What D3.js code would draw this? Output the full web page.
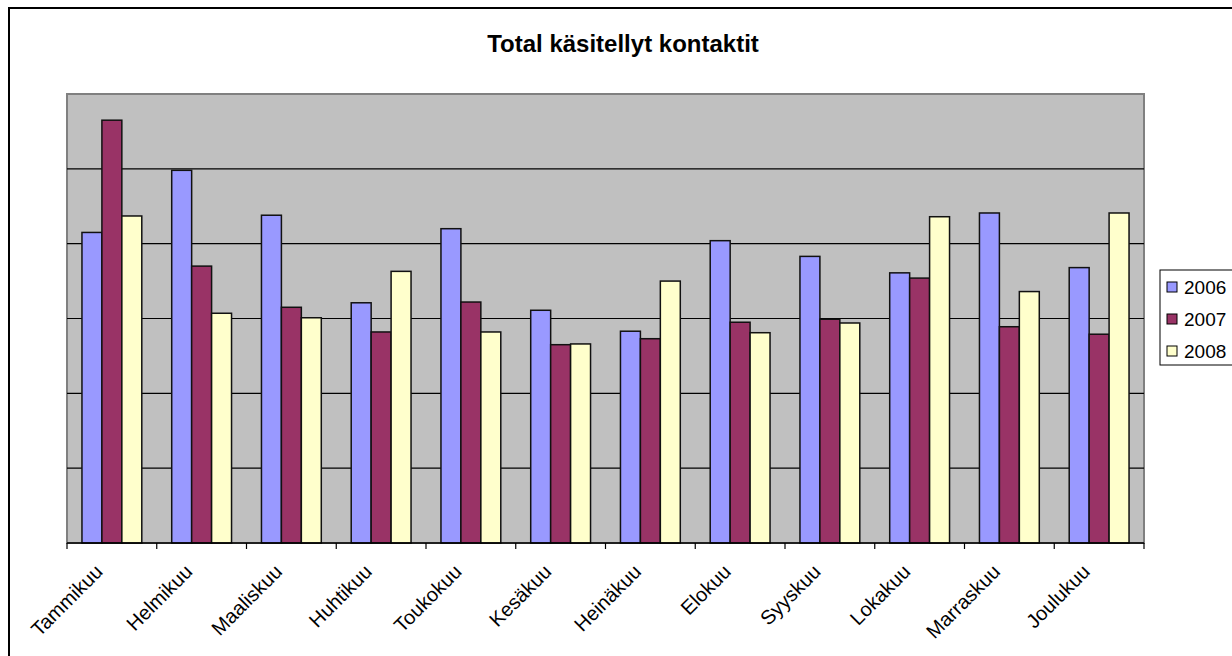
<!DOCTYPE html>
<html>
<head>
<meta charset="utf-8">
<script src="https://cdn.jsdelivr.net/npm/d3@7"></script>
<style>
body{margin:0;background:#fff;overflow:hidden}
text{font-family:"Liberation Sans",Arial,sans-serif}
</style>
</head>
<body>
<div id="chart"></div>
<script>
var months = ["Tammikuu","Helmikuu","Maaliskuu","Huhtikuu","Toukokuu","Kesäkuu","Heinäkuu","Elokuu","Syyskuu","Lokakuu","Marraskuu","Joulukuu"]
var years = ["2006","2007","2008"]
var values2006 = [415,498,438,321,420,311,283,404,383,361,441,368]
var values2007 = [565,370,315,282,322,265,273,295,299,354,289,279]
var values2008 = [437,307,301,363,282,266,350,281,294,436,336,441]
var yTicks = [0,100,200,300,400,500,600]
var colors = ["#9999ff","#993366","#ffffcc"]

var series = [values2006,values2007,values2008]

var w = 1232
var h = 656
var plot = {left:67,top:94,right:1144,bottom:543}

var svg = d3.select("#chart").append("svg").attr("width",w).attr("height",h)

// outer chart border (runs off right/bottom edge)
svg.append("rect").attr("x",9).attr("y",8).attr("width",1300).attr("height",700)
    .attr("fill","#fff").attr("stroke","#000").attr("stroke-width",2)

svg.append("text").text("Total käsitellyt kontaktit")
    .attr("x",623).attr("y",52).attr("text-anchor","middle")
    .attr("font-size",24).attr("font-weight","bold").attr("fill","#000")

var x0 = d3.scaleBand().domain(months).range([plot.left,plot.right]).paddingInner(0).paddingOuter(0)
// 3 bars + 150% gap
var x1 = d3.scaleBand().domain(years).range([0,x0.bandwidth()]).paddingInner(0).paddingOuter(0.75)
var y = d3.scaleLinear().domain([0,600]).range([plot.bottom,plot.top])

svg.append("rect").attr("x",plot.left).attr("y",plot.top)
    .attr("width",plot.right-plot.left).attr("height",plot.bottom-plot.top)
    .attr("fill","#c0c0c0").attr("stroke","#808080").attr("stroke-width",2)

svg.selectAll(".grid").data(yTicks.slice(1,-1)).enter().append("line")
    .attr("class","grid")
    .attr("x1",plot.left).attr("x2",plot.right)
    .attr("y1",function(d){return y(d)}).attr("y2",function(d){return y(d)})
    .attr("stroke","#000").attr("stroke-width",1.2)

for(var s in series){
    var vals = series[s]
    svg.selectAll(".bar"+s).data(months).enter().append("rect")
        .attr("class","bar"+s)
        .attr("x",function(d){return x0(d)+x1(years[s])})
        .attr("y",function(d,i){return y(vals[i])})
        .attr("width",x1.bandwidth())
        .attr("height",function(d,i){return y(0)-y(vals[i])})
        .attr("fill",colors[s]).attr("stroke","#111").attr("stroke-width",1.5)
}

// x axis
svg.append("line").attr("x1",plot.left).attr("x2",plot.right)
    .attr("y1",plot.bottom).attr("y2",plot.bottom).attr("stroke","#000").attr("stroke-width",1.5)
var tickPos = months.map(function(m){return x0(m)}).concat([plot.right])
svg.selectAll(".tick").data(tickPos).enter().append("line")
    .attr("x1",function(d){return d}).attr("x2",function(d){return d})
    .attr("y1",plot.bottom).attr("y2",plot.bottom+6)
    .attr("stroke","#000").attr("stroke-width",1.2)

svg.selectAll(".xlabel").data(months).enter().append("text")
    .attr("class","xlabel")
    .attr("transform",function(d){return "translate("+(x0(d)+x0.bandwidth()/2-8)+","+(plot.bottom+30)+") rotate(-45)"})
    .attr("text-anchor","end")
    .attr("font-size",20).attr("fill","#000")
    .text(function(d){return d})

// legend
var legend = svg.append("g").attr("transform","translate(1160,270)")
legend.append("rect").attr("x",0).attr("y",0).attr("width",100).attr("height",95)
    .attr("fill","#fff").attr("stroke","#000").attr("stroke-width",1)
legend.selectAll(".lg").data(years).enter().append("rect")
    .attr("x",7).attr("y",function(d,i){return 12+i*32})
    .attr("width",10).attr("height",10)
    .attr("fill",function(d,i){return colors[i]}).attr("stroke","#000").attr("stroke-width",1)
legend.selectAll(".lt").data(years).enter().append("text")
    .attr("x",24).attr("y",function(d,i){return 24+i*32})
    .attr("font-size",19).attr("fill","#000")
    .text(function(d){return d})
</script>
</body>
</html>
